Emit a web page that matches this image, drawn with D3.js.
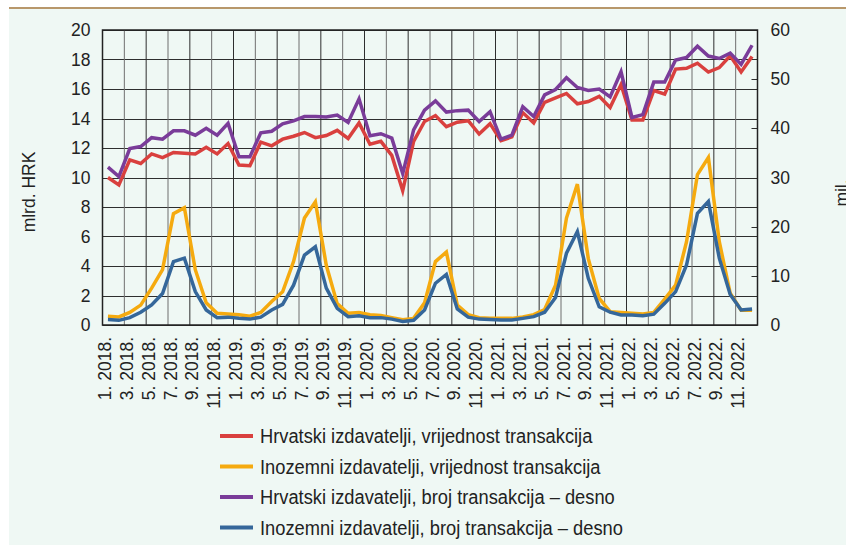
<!DOCTYPE html>
<html>
<head>
<meta charset="utf-8">
<script src="https://cdn.jsdelivr.net/npm/d3@7"></script>
<style>
  body { margin: 0; background: #fff; }
  svg { display: block; }
</style>
</head>
<body>
<div id="chart"></div>
<script>
const width = 846;
const height = 545;

// months, 1. 2018. - 12. 2022.
const categories = [
  "1. 2018.", "2. 2018.", "3. 2018.", "4. 2018.", "5. 2018.", "6. 2018.", "7. 2018.", "8. 2018.", "9. 2018.", "10. 2018.", "11. 2018.", "12. 2018.",
  "1. 2019.", "2. 2019.", "3. 2019.", "4. 2019.", "5. 2019.", "6. 2019.", "7. 2019.", "8. 2019.", "9. 2019.", "10. 2019.", "11. 2019.", "12. 2019.",
  "1. 2020.", "2. 2020.", "3. 2020.", "4. 2020.", "5. 2020.", "6. 2020.", "7. 2020.", "8. 2020.", "9. 2020.", "10. 2020.", "11. 2020.", "12. 2020.",
  "1. 2021.", "2. 2021.", "3. 2021.", "4. 2021.", "5. 2021.", "6. 2021.", "7. 2021.", "8. 2021.", "9. 2021.", "10. 2021.", "11. 2021.", "12. 2021.",
  "1. 2022.", "2. 2022.", "3. 2022.", "4. 2022.", "5. 2022.", "6. 2022.", "7. 2022.", "8. 2022.", "9. 2022.", "10. 2022.", "11. 2022.", "12. 2022."
];

// x tick labels (every other month)
const xTickLabels = [
  "1. 2018.", "3. 2018.", "5. 2018.", "7. 2018.", "9. 2018.", "11. 2018.",
  "1. 2019.", "3. 2019.", "5. 2019.", "7. 2019.", "9. 2019.", "11. 2019.",
  "1. 2020.", "3. 2020.", "5. 2020.", "7. 2020.", "9. 2020.", "11. 2020.",
  "1. 2021.", "3. 2021.", "5. 2021.", "7. 2021.", "9. 2021.", "11. 2021.",
  "1. 2022.", "3. 2022.", "5. 2022.", "7. 2022.", "9. 2022.", "11. 2022."
];

const leftTicks = [0, 2, 4, 6, 8, 10, 12, 14, 16, 18, 20];
const rightTicks = [0, 10, 20, 30, 40, 50, 60];

// Hrvatski izdavatelji, vrijednost transakcija (mlrd. HRK, left)
const hrValue = [
  10.0, 9.5, 11.2, 10.95, 11.6, 11.35, 11.7, 11.65, 11.6, 12.05, 11.6, 12.3,
  10.85, 10.8, 12.4, 12.15, 12.6, 12.8, 13.05, 12.7, 12.85, 13.2, 12.65, 13.7,
  12.25, 12.45, 11.5, 9.1, 12.45, 13.8, 14.2, 13.45, 13.75, 13.85, 12.95, 13.65,
  12.5, 12.75, 14.4, 13.7, 15.1, 15.4, 15.7, 15.0, 15.15, 15.5, 14.75, 16.3,
  13.9, 13.9, 15.9, 15.65, 17.35, 17.4, 17.75, 17.15, 17.45, 18.25, 17.15, 18.2
];

// Inozemni izdavatelji, vrijednost transakcija (mlrd. HRK, left)
const foreignValue = [
  0.6, 0.55, 0.85, 1.35, 2.5, 3.75, 7.55, 7.95, 3.75, 1.5, 0.8, 0.75,
  0.7, 0.6, 0.85, 1.6, 2.25, 4.3, 7.25, 8.35, 4.05, 1.45, 0.8, 0.85,
  0.7, 0.65, 0.5, 0.35, 0.45, 1.5, 4.3, 4.95, 1.35, 0.7, 0.5, 0.45,
  0.45, 0.45, 0.55, 0.7, 1.05, 2.7, 7.25, 9.55, 4.5, 1.8, 0.9, 0.85,
  0.8, 0.75, 0.85, 1.75, 2.7, 5.65, 10.2, 11.35, 5.65, 2.15, 1.0, 1.0
];

// Hrvatski izdavatelji, broj transakcija (mil., right)
const hrCount = [
  32.1, 30.2, 35.9, 36.3, 38.1, 37.8, 39.5, 39.5, 38.6, 40.0, 38.6, 41.0,
  34.2, 34.2, 39.1, 39.4, 40.9, 41.5, 42.4, 42.4, 42.3, 42.7, 41.2, 46.0,
  38.5, 38.9, 38.0, 30.8, 39.7, 43.7, 45.6, 43.3, 43.6, 43.7, 41.4, 43.4,
  37.8, 38.6, 44.4, 42.4, 46.8, 47.9, 50.3, 48.3, 47.7, 48.0, 46.4, 51.5,
  42.2, 42.8, 49.4, 49.4, 53.9, 54.4, 56.7, 54.7, 54.2, 55.3, 53.0, 56.9
];

// Inozemni izdavatelji, broj transakcija (mil., right)
const foreignCount = [
  1.1, 0.95, 1.5, 2.6, 4.1, 6.4, 12.9, 13.6, 6.8, 3.05, 1.5, 1.6,
  1.35, 1.2, 1.6, 3.05, 4.2, 8.1, 14.2, 15.9, 7.5, 3.4, 1.7, 1.9,
  1.5, 1.5, 1.2, 0.7, 0.95, 3.05, 8.5, 10.3, 3.25, 1.6, 1.2, 1.1,
  1.0, 1.0, 1.35, 1.7, 2.6, 5.6, 14.6, 19.0, 9.5, 3.7, 2.6, 2.05,
  2.05, 1.9, 2.2, 4.4, 6.8, 12.2, 22.7, 25.1, 13.6, 6.2, 3.05, 3.25
];

const seriesNames = [
  "Hrvatski izdavatelji, vrijednost transakcija",
  "Inozemni izdavatelji, vrijednost transakcija",
  "Hrvatski izdavatelji, broj transakcija – desno",
  "Inozemni izdavatelji, broj transakcija – desno"
];
const seriesColors = ["#d9403e", "#f5aa0f", "#7a3c99", "#35679a"];

const series = [
  { name: seriesNames[0], values: hrValue, axis: "left", color: seriesColors[0] },
  { name: seriesNames[1], values: foreignValue, axis: "left", color: seriesColors[1] },
  { name: seriesNames[2], values: hrCount, axis: "right", color: seriesColors[2] },
  { name: seriesNames[3], values: foreignCount, axis: "right", color: seriesColors[3] }
];

const plot = { left: 102.5, right: 757.5, top: 30, bottom: 325 };
const tickFont = "'Liberation Sans', Arial, sans-serif";

const svg = d3.select("#chart")
    .append("svg")
    .attr("width", width)
    .attr("height", height);

// background: white page, tan rule, mint panel
svg.append("rect").attr("width", width).attr("height", height).attr("fill", "#fff");
svg.append("rect")
    .attr("x", 9).attr("y", 9)
    .attr("width", width - 9).attr("height", height - 9)
    .attr("fill", "#eff8f4");
svg.append("rect")
    .attr("x", 9).attr("y", 7)
    .attr("width", width - 9).attr("height", 2)
    .attr("fill", "#b8976b");

const x = d3.scaleBand()
    .domain(categories)
    .range([plot.left, plot.right]);

const yL = d3.scaleLinear().domain([0, 20]).range([plot.bottom, plot.top]);
const yR = d3.scaleLinear().domain([0, 60]).range([plot.bottom, plot.top]);

// grid
const grid = svg.append("g").attr("stroke", "#2e2e2e").attr("stroke-width", 1);
grid.selectAll("line.h")
    .data(leftTicks)
    .enter().append("line")
    .attr("x1", plot.left).attr("x2", plot.right)
    .attr("y1", d => Math.round(yL(d)) + 0.5)
    .attr("y2", d => Math.round(yL(d)) + 0.5);
grid.selectAll("line.v")
    .data(categories.filter((d, i) => i % 2 === 0))
    .enter().append("line")
    .attr("x1", d => x(d)).attr("x2", d => x(d))
    .attr("y1", plot.top).attr("y2", plot.bottom)
    .attr("stroke", (d, i) => i % 2 === 0 ? "#2e2e2e" : "#6f6f6f");

// right axis inner ticks
grid.selectAll("line.rt")
    .data(rightTicks.slice(1, -1))
    .enter().append("line")
    .attr("x1", plot.right - 6).attr("x2", plot.right)
    .attr("y1", d => Math.round(yR(d)) + 0.5)
    .attr("y2", d => Math.round(yR(d)) + 0.5);

// frame
svg.append("rect")
    .attr("x", plot.left).attr("y", plot.top)
    .attr("width", plot.right - plot.left).attr("height", plot.bottom - plot.top)
    .attr("fill", "none")
    .attr("stroke", "#222")
    .attr("stroke-width", 1.5);

// axes
const leftAxis = svg.append("g")
    .attr("transform", `translate(${plot.left},0)`)
    .call(d3.axisLeft(yL).tickValues(leftTicks).tickSize(0).tickPadding(12));
const rightAxis = svg.append("g")
    .attr("transform", `translate(${plot.right},0)`)
    .call(d3.axisRight(yR).tickValues(rightTicks).tickSize(0).tickPadding(13));
const bottomAxis = svg.append("g")
    .attr("transform", `translate(0,${plot.bottom})`)
    .call(d3.axisBottom(x).tickValues(xTickLabels).tickSize(0));

[leftAxis, rightAxis, bottomAxis].forEach(g => {
    g.select(".domain").remove();
    g.selectAll("text")
        .attr("fill", "#222")
        .style("font-family", tickFont)
        .style("font-size", "17.5px");
});

bottomAxis.selectAll("text")
    .attr("transform", "rotate(-90)")
    .attr("text-anchor", "end")
    .attr("x", -12)
    .attr("y", -3)
    .attr("dy", "0.35em");

// axis titles
svg.append("text")
    .attr("transform", "translate(35,192) rotate(-90)")
    .attr("text-anchor", "middle")
    .attr("fill", "#222")
    .style("font-family", tickFont)
    .style("font-size", "17.5px")
    .text("mlrd. HRK");
// right title sits at the very edge, as in the source
svg.append("text")
    .attr("transform", "translate(848,193) rotate(-90)")
    .attr("text-anchor", "middle")
    .attr("fill", "#222")
    .style("font-family", tickFont)
    .style("font-size", "17.5px")
    .text("mil.");

// lines
const lineFor = s => d3.line()
    .x((d, i) => x(categories[i]) + x.bandwidth() / 2)
    .y(d => s.axis === "left" ? yL(d) : yR(d));

svg.append("g")
    .selectAll("path")
    .data(series)
    .enter().append("path")
    .attr("d", s => lineFor(s)(s.values))
    .attr("fill", "none")
    .attr("stroke", s => s.color)
    .attr("stroke-width", 3.5)
    .attr("stroke-linejoin", "miter");

// legend (condensed type: squeeze a regular face horizontally)
const legend = svg.append("g").attr("transform", "translate(220,436)");
const rows = legend.selectAll("g")
    .data(series)
    .enter().append("g")
    .attr("transform", (d, i) => `translate(0,${i * 30.5})`);
rows.append("line")
    .attr("x1", 0).attr("x2", 33)
    .attr("stroke", d => d.color)
    .attr("stroke-width", 4);
rows.append("text")
    .attr("transform", "translate(40,0) scale(0.915,1)")
    .attr("dy", "0.36em")
    .attr("fill", "#222")
    .style("font-family", tickFont)
    .style("font-size", "20px")
    .text(d => d.name);
</script>
</body>
</html>
